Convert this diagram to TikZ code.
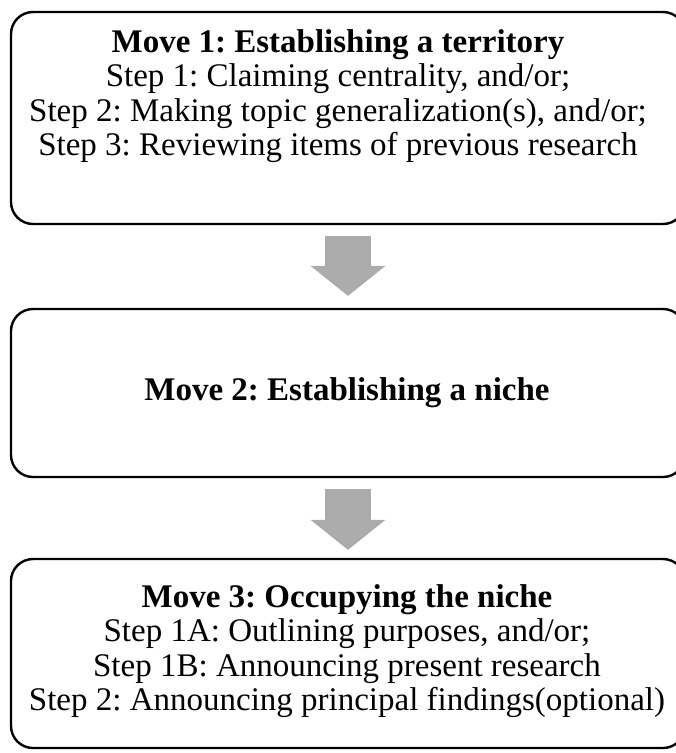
\documentclass[tikz,border=0pt]{standalone}
\usepackage{fontspec}
\setmainfont{Liberation Serif}
\usetikzlibrary{arrows.meta}
\frenchspacing

\begin{document}
\begin{tikzpicture}[
  x=1pt, y=-1pt,
  movebox/.style={draw, line width=2.4pt, rounded corners=22pt,
                  minimum width=674pt, inner sep=0pt},
  movetext/.style={align=center, inner sep=0pt,
                   font=\fontsize{33}{34.3}\selectfont},
  flow/.style={draw=black!33, line width=46pt,
               -{Triangle[width=75pt, length=30pt, line width=0pt]}},
]
\useasboundingbox (0,0) rectangle (676,753);
\clip (0,0) rectangle (676,753);
% ---- move boxes ----
\node[movebox, minimum height=212pt] (m1) at (348,118) {};
\node[movebox, minimum height=168pt] (m2) at (348,393) {};
\node[movebox, minimum height=189pt] (m3) at (348,653.5) {};
% ---- box texts ----
\node[movetext] (m1text) at (338,96) {\textbf{Move 1: Establishing a territory}\\
  Step 1: Claiming centrality, and/or;\\
  Step 2: Making topic generalization(s), and/or;\\
  Step 3: Reviewing items of previous research};
\node[movetext] (m2text) at (347,393) {\textbf{Move 2: Establishing a niche}};
\node[movetext] (m3text) at (347,651) {\textbf{Move 3: Occupying the niche}\\
  Step 1A: Outlining purposes, and/or;\\
  Step 1B: Announcing present research\\
  Step 2: Announcing principal findings(optional)};
% ---- arrows ----
\draw[flow] ([yshift=-11pt]m1.south) -- ([yshift=12pt]m2.north);
\draw[flow] ([yshift=-11pt]m2.south) -- ([yshift=8pt]m3.north);
\end{tikzpicture}
\end{document}
